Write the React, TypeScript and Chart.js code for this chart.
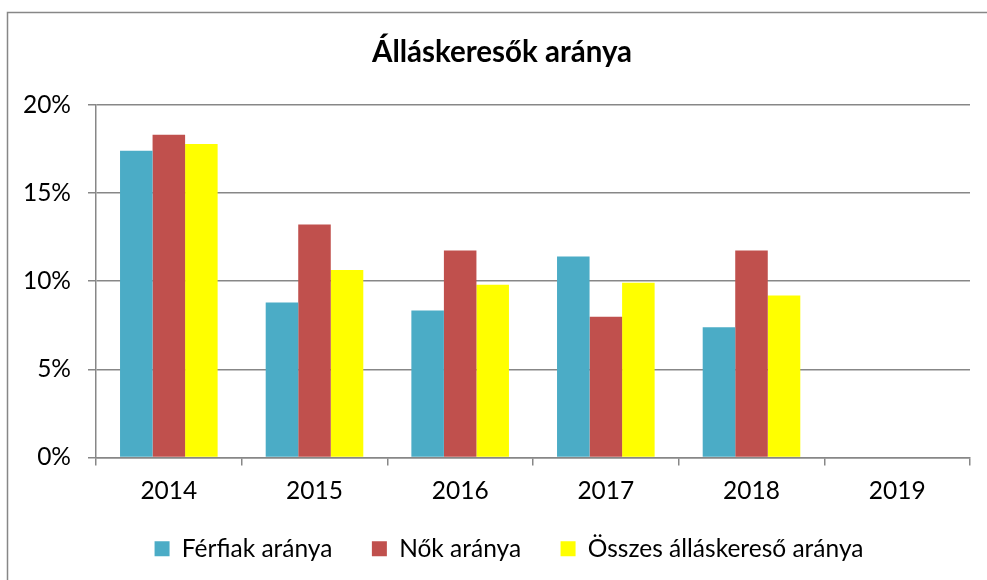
import React, { useEffect, useRef } from "react";
import { Chart, registerables } from "chart.js";

Chart.register(...registerables);

const categories = ["2014", "2015", "2016", "2017", "2018", "2019"];
const ferfiak = [17.4, 8.79, 8.34, 11.4, 7.39, null];
const nok = [18.3, 13.22, 11.74, 7.99, 11.74, null];
const osszes = [17.78, 10.64, 9.8, 9.91, 9.19, null];
const seriesLabels = ["Férfiak aránya", "Nők aránya", "Összes álláskereső aránya"];
const titleText = "Álláskeresők aránya";

const FONT = "Lato, 'Noto Sans', sans-serif";
const GRID = "#878787";
const TICK_SIZE = 24.5;
const LEGEND_SIZE = 24.5;

const borderPlugin = {
  id: "outerBorder",
  beforeDraw(chart: any) {
    const ctx = chart.ctx;
    ctx.save();
    ctx.fillStyle = "#ffffff";
    ctx.fillRect(0, 0, chart.width, chart.height);
    ctx.strokeStyle = GRID;
    ctx.lineWidth = 1.5;
    ctx.beginPath();
    ctx.moveTo(7.5, chart.height);
    ctx.lineTo(7.5, 12.5);
    ctx.lineTo(chart.width, 12.5);
    ctx.stroke();
    ctx.restore();
  },
  afterLayout(chart: any) {
    if (chart.legend) {
      chart.legend.left += 24;
      chart.legend.right += 24;
      chart.legend.top -= 9;
      chart.legend.bottom -= 9;
    }
    if (chart.titleBlock) {
      chart.titleBlock.left += 17;
      chart.titleBlock.right += 17;
    }
  },
};

export default function App() {
  const ref = useRef<HTMLCanvasElement | null>(null);
  useEffect(() => {
    if (!ref.current) return;
    const chart = new Chart(ref.current, {
      type: "bar",
      data: {
        labels: categories,
        datasets: [
          { label: seriesLabels[0], data: ferfiak, backgroundColor: "#4BACC6", borderWidth: 0 },
          { label: seriesLabels[1], data: nok, backgroundColor: "#C0504D", borderWidth: 0 },
          { label: seriesLabels[2], data: osszes, backgroundColor: "#FFFF00", borderWidth: 0 },
        ],
      },
      options: {
        responsive: false,
        animation: false,
        devicePixelRatio: 1,
        layout: { padding: { left: 0, right: 17, top: 0, bottom: 0 } },
        datasets: { bar: { categoryPercentage: 0.67, barPercentage: 1.0 } },
        plugins: {
          title: {
            display: true,
            text: titleText,
            color: "#000",
            font: { family: FONT, size: 29.5, weight: "bold", lineHeight: 1.2 },
            padding: { top: 35, bottom: 34.5 },
          },
          legend: {
            position: "bottom",
            labels: {
              color: "#000",
              font: { family: FONT, size: LEGEND_SIZE },
              boxWidth: 15,
              boxHeight: 15,
              padding: 39.5,
            },
          },
          tooltip: { enabled: false },
        },
        scales: {
          x: {
            grid: {
              display: true,
              drawOnChartArea: false,
              drawTicks: true,
              tickLength: 8,
              offset: true,
              color: GRID,
              lineWidth: 1.5,
            },
            border: { display: true, color: GRID, width: 1.5 },
            ticks: { color: "#000", font: { family: FONT, size: TICK_SIZE }, padding: 11 },
            afterFit(scale: any) {
              scale.height = 48.5;
            },
          },
          y: {
            min: 0,
            max: 20,
            grid: { color: GRID, lineWidth: 1.5, tickLength: 8, drawTicks: true },
            border: { display: true, color: GRID, width: 1.5 },
            ticks: {
              stepSize: 5,
              color: "#000",
              font: { family: FONT, size: TICK_SIZE },
              padding: 17,
              callback: (v: any) => v + "%",
            },
            afterFit(scale: any) {
              scale.width = 96;
            },
          },
        },
      },
      plugins: [borderPlugin],
    } as any);
    return () => chart.destroy();
  }, []);
  return (
    <div style={{ position: "absolute", left: 0, top: 0, width: 987, height: 580 }}>
      <canvas ref={ref} width={987} height={580} style={{ width: 987, height: 580, display: "block" }} />
    </div>
  );
}
